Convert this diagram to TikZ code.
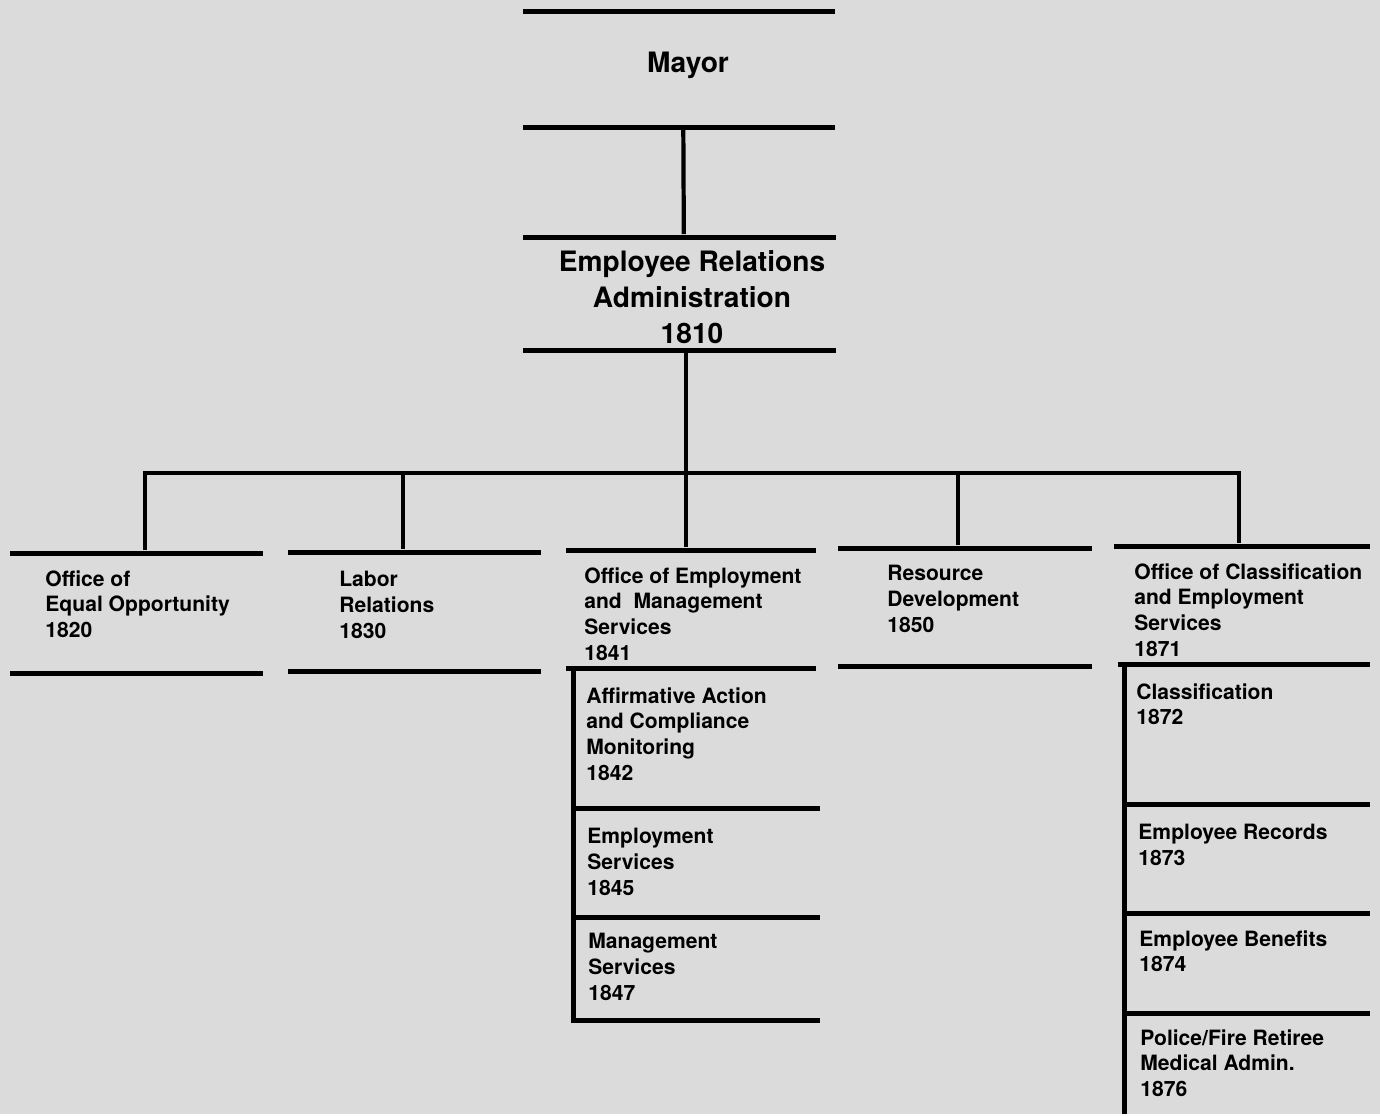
\documentclass[tikz,border=0pt]{standalone}
\usepackage{fontspec}
\setmainfont{TeX Gyre Heros}
\usepackage{xcolor}
\usepackage{tikz}
\definecolor{scanpaper}{RGB}{219,219,219}

\begin{document}
\begin{tikzpicture}[
    x=0.02cm, y=-0.02cm,
    strip/.style={fill=black, inner sep=0pt, minimum height=0.1cm,
                  minimum width=#1, anchor=west},
    head/.style={align=center, inner sep=0pt,
                 font=\fontsize{16}{20.4}\selectfont\bfseries},
    unit/.style={anchor=north west, inner sep=0pt, align=left,
                 font=\fontsize{12}{14.7}\selectfont\bfseries},
    link/.style={line width=2.4pt, line join=miter},
    stack/.style={line width=2.9pt}
  ]
    % Page is 1380 x 1114 units, y runs downwards.
    \fill[scanpaper] (0,0) rectangle (1380,1114);
    \node[strip=6.24cm] (mayorTop) at (523,11)  {};
    \node[head, anchor=base] (mayor) at (688,72) {Mayor};
    \node[strip=6.24cm] (mayorBot) at (523,127) {};
    \node[strip=6.26cm] (eraTop)   at (523,237) {};
    \node[head] (era) at (692,297) {Employee Relations\\Administration\\1810};
    \node[strip=6.26cm] (eraBot)   at (523,350) {};
    \draw[link] ([xshift=0.08cm]mayorBot.south) -- ([xshift=0.08cm]eraTop.north);
    % Second row
    \node[strip=5.06cm] (eeoTop)  at (10,553)   {};
    \node[strip=5.06cm] (eeoBot)  at (10,673)   {};
    \node[unit] (eeo) at (45,570) {Office of\\Equal Opportunity\\1820};
    \node[strip=5.06cm] (lrTop)   at (288,552)  {};
    \node[strip=5.06cm] (lrBot)   at (288,671)  {};
    \node[unit] (lr) at (339,571) {Labor\\Relations\\1830};
    \node[strip=5.00cm] (oemsTop) at (566,550)  {};
    \node[strip=5.00cm] (oemsBot) at (566,668)  {};
    \node[unit] (oems) at (584,567)
      {Office of Employment\\and\ \ Management\\Services\\1841};
    \node[strip=5.08cm] (rdTop)   at (838,548)  {};
    \node[strip=5.08cm] (rdBot)   at (838,666)  {};
    \node[unit] (rd) at (887,565) {Resource\\Development\\1850};
    \node[strip=5.12cm] (ocesTop) at (1114,546) {};
    \node[strip=5.04cm] (ocesBot) at (1118,664) {};
    \node[unit] (oces) at (1134,563)
      {Office of Classification\\and Employment\\Services\\1871};
    % Bus
    \coordinate (j1) at (145,473);
    \coordinate (j2) at (403,473);
    \coordinate (j3) at (686,473);
    \coordinate (j4) at (958,473);
    \coordinate (j5) at (1239,473);
    \draw[link] (j1 |- eeoTop.north) -- (j1) -- (j5) -- (j5 |- ocesTop.north);
    \draw[link] (eraBot.south -| j3) -- (j3 |- oemsTop.north);
    \foreach \j/\b in {j2/lrTop, j4/rdTop}
      \draw[link] (\j) -- (\j |- \b.north);
    % Sections under 1841
    \node[strip=4.98cm] (aacmBot) at (571,808)  {};
    \node[strip=4.98cm] (esBot)   at (571,917)  {};
    \node[strip=4.98cm] (msBot)   at (571,1020) {};
    \draw[stack] ([xshift=1.4pt]aacmBot.west |- oemsBot.south)
      -- ([xshift=1.4pt]msBot.south west);
    \node[unit] (aacm) at (586,687)
      {Affirmative Action\\and Compliance\\Monitoring\\1842};
    \node[unit] (es) at (587,828) {Employment\\Services\\1845};
    \node[unit] (ms) at (588,933) {Management\\Services\\1847};
    % Sections under 1871
    \node[strip=4.96cm] (clBot) at (1122,804)  {};
    \node[strip=4.96cm] (erBot) at (1122,913)  {};
    \node[strip=4.96cm] (ebBot) at (1122,1013) {};
    \coordinate (foot) at (1122,1114);
    \draw[stack] ([xshift=1.4pt]clBot.west |- ocesBot.south)
      -- ([xshift=1.4pt]foot);
    \node[unit] (cl) at (1136,683) {Classification\\1872};
    \node[unit] (er) at (1138,824) {Employee Records\\1873};
    \node[unit] (eb) at (1139,930) {Employee Benefits\\1874};
    \node[unit] (pf) at (1140,1029)
      {Police/Fire Retiree\\Medical Admin.\\1876};
  \end{tikzpicture}
\end{document}
